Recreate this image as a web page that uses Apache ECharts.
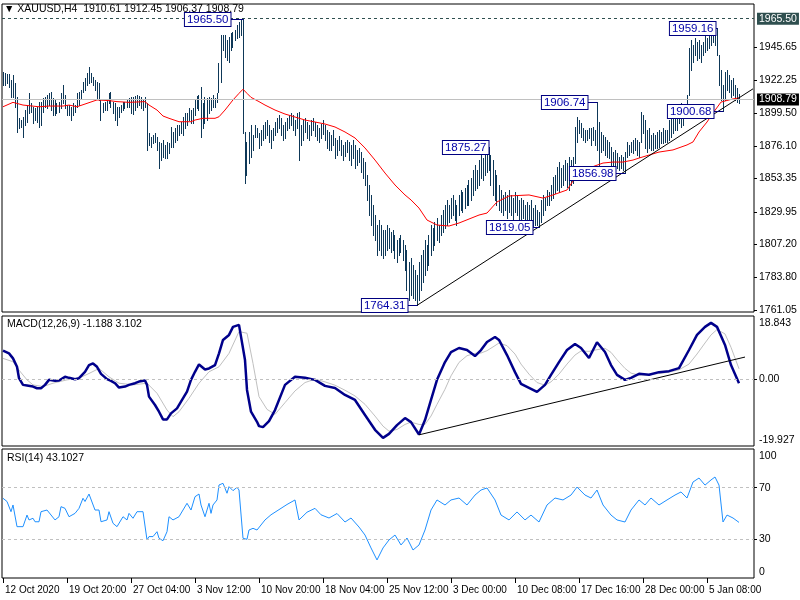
<!DOCTYPE html>
<html><head><meta charset="utf-8">
<script src="https://cdn.jsdelivr.net/npm/echarts@6/dist/echarts.min.js"></script>
<style>html,body{margin:0;padding:0;background:#fff}#c{width:800px;height:600px}</style>
</head><body><div id="c"></div>
<script>
// ---------- data ----------
const symbolTitle = 'XAUUSD,H4';
const lastOHLC = [1910.61, 1912.45, 1906.37, 1908.79];
const highs = [
1928.3,1927.6,1926.7,1926.7,1922.5,1926.0,1920.4,1910.6,1895.8,1894.4,
1896.5,1901.4,1904.9,1913.4,1906.3,1903.5,1902.8,1903.5,1907.0,1907.0,
1909.9,1910.6,1912.0,1913.4,1914.1,1909.9,1908.5,1906.3,1907.0,1913.4,
1919.0,1912.0,1904.9,1904.9,1903.5,1906.3,1904.9,1913.4,1914.1,1915.5,
1921.1,1923.9,1927.4,1931.6,1927.4,1924.6,1922.5,1921.1,1920.4,1908.5,
1906.3,1907.0,1908.5,1913.4,1914.1,1907.0,1906.3,1903.5,1903.5,1904.9,
1907.0,1907.0,1908.5,1909.9,1910.6,1910.6,1911.3,1912.0,1911.3,1910.6,
1908.5,1910.6,1906.3,1885.3,1882.5,1883.9,1885.3,1882.5,1879.0,1878.3,
1880.4,1876.9,1879.0,1878.3,1889.5,1886.0,1888.8,1890.9,1890.9,1893.0,
1896.5,1899.3,1899.3,1902.8,1901.4,1902.8,1908.5,1911.3,1912.0,1917.6,
1906.3,1910.6,1909.9,1910.6,1909.9,1912.0,1909.9,1913.4,1934.4,1954.1,
1954.1,1954.1,1950.6,1952.7,1955.5,1956.2,1957.6,1961.1,1963.2,1964.6,
1965.5,1886.0,1879.0,1886.0,1890.9,1883.9,1890.9,1888.8,1885.3,1887.4,
1890.9,1893.0,1894.4,1890.9,1887.4,1888.8,1893.0,1895.8,1897.9,1895.8,
1890.9,1893.0,1895.8,1897.9,1899.3,1897.9,1894.4,1899.3,1900.0,1890.9,
1894.4,1895.8,1893.0,1890.9,1894.4,1895.8,1893.0,1890.9,1888.8,1891.6,
1894.4,1890.9,1887.4,1886.0,1883.9,1887.4,1881.8,1880.4,1883.2,1880.4,
1876.9,1879.0,1880.4,1879.0,1876.9,1880.4,1876.9,1873.4,1874.8,1871.9,
1867.7,1864.9,1855.8,1848.8,1841.8,1834.7,1827.7,1820.7,1824.2,1820.7,
1817.2,1817.2,1820.7,1818.6,1815.8,1817.2,1813.7,1810.2,1811.6,1813.7,
1810.2,1806.7,1803.2,1794.7,1797.5,1792.6,1789.1,1785.6,1794.7,1799.7,
1803.2,1810.2,1806.7,1813.7,1820.7,1818.6,1822.8,1825.6,1820.7,1827.7,
1831.2,1834.7,1838.3,1834.7,1839.6,1841.8,1838.3,1834.7,1841.8,1845.3,
1843.9,1846.7,1848.8,1852.3,1853.7,1859.3,1862.8,1859.3,1866.3,1869.8,
1867.7,1873.4,1874.8,1875.27,1869.8,1866.3,1859.3,1855.8,1848.8,1845.3,
1841.8,1843.9,1841.8,1845.3,1841.8,1839.6,1843.9,1841.8,1838.3,1839.6,
1838.3,1834.7,1836.9,1834.7,1838.3,1832.6,1834.7,1831.2,1829.8,1838.3,
1841.8,1839.6,1845.3,1843.9,1848.8,1854.4,1855.8,1861.4,1864.9,1860.7,
1862.8,1866.3,1864.2,1868.4,1866.3,1868.4,1889.5,1896.5,1894.4,1892.3,
1888.8,1887.4,1887.4,1888.8,1888.8,1889.5,1887.4,1906.74,1893.0,1886.0,
1883.9,1882.5,1880.4,1879.0,1875.5,1871.9,1873.4,1871.3,1868.4,1869.8,
1868.4,1871.9,1879.0,1876.9,1879.0,1880.4,1881.8,1880.4,1879.0,1900.0,
1897.9,1894.4,1887.4,1888.8,1883.9,1885.3,1883.9,1886.0,1887.4,1886.0,
1888.8,1887.4,1887.4,1894.4,1897.9,1899.3,1900.0,1901.4,1901.4,1906.3,
1900.0,1902.8,1912.0,1944.9,1950.6,1947.1,1952.0,1949.2,1950.6,1947.1,
1949.2,1954.1,1952.0,1956.2,1957.6,1955.0,1957.6,1959.16,1940.0,1929.5,
1919.0,1928.1,1929.5,1926.0,1922.5,1923.9,1919.0,1916.9,1912.45
];
const lows = [
1919.0,1919.0,1920.4,1917.6,1910.6,1910.6,1903.5,1886.0,1888.8,1889.5,
1882.5,1890.9,1893.0,1899.3,1900.0,1892.3,1894.4,1893.0,1889.5,1890.9,
1900.0,1903.5,1902.8,1904.9,1901.4,1897.9,1897.9,1899.3,1900.0,1902.8,
1906.3,1902.8,1897.9,1897.9,1894.4,1897.9,1900.0,1903.5,1904.9,1909.9,
1914.1,1915.5,1919.0,1920.4,1921.1,1919.0,1915.5,1909.9,1908.5,1894.4,
1900.0,1901.4,1901.4,1906.3,1903.5,1899.3,1894.4,1890.9,1896.5,1900.0,
1901.4,1902.8,1903.5,1903.5,1899.3,1898.6,1901.4,1903.5,1904.9,1902.8,
1901.4,1903.5,1873.4,1876.9,1875.5,1878.3,1879.0,1873.4,1860.7,1866.3,
1868.4,1867.7,1867.7,1871.3,1875.5,1875.5,1879.0,1880.4,1883.9,1885.3,
1883.9,1888.8,1890.9,1894.4,1892.3,1892.3,1897.9,1902.8,1901.4,1882.5,
1888.8,1892.3,1894.4,1899.3,1901.4,1903.5,1903.5,1907.0,1914.1,1921.1,
1943.5,1938.6,1936.5,1935.1,1943.5,1945.7,1950.6,1951.9,1952.7,1954.1,
1885.3,1850.2,1855.8,1864.2,1868.4,1873.4,1882.5,1882.5,1874.8,1876.9,
1880.4,1881.8,1883.9,1879.0,1874.8,1880.4,1883.9,1886.0,1888.8,1883.9,
1880.4,1881.8,1887.4,1888.8,1890.9,1887.4,1883.9,1888.8,1866.3,1876.9,
1880.4,1886.0,1881.8,1880.4,1883.9,1887.4,1883.2,1880.4,1879.0,1881.8,
1884.6,1880.4,1874.8,1873.4,1873.4,1876.9,1867.7,1869.8,1873.4,1869.8,
1866.3,1869.1,1871.9,1866.3,1862.8,1867.7,1860.7,1862.8,1864.9,1857.9,
1853.7,1848.8,1838.3,1827.7,1820.7,1813.7,1810.2,1799.7,1803.2,1799.7,
1797.5,1799.7,1803.2,1804.6,1801.8,1803.2,1797.5,1794.7,1799.7,1801.8,
1796.1,1789.1,1775.1,1768.1,1771.6,1769.5,1768.1,1764.31,1768.1,1775.1,
1780.7,1785.6,1789.1,1792.6,1799.7,1803.2,1806.7,1810.2,1808.8,1813.7,
1815.8,1818.6,1820.7,1822.8,1825.6,1827.7,1824.2,1820.7,1827.7,1831.2,
1829.8,1832.6,1834.7,1834.7,1838.3,1841.8,1845.3,1846.7,1848.8,1853.7,
1852.3,1855.8,1857.9,1859.3,1848.8,1841.8,1838.3,1834.7,1831.2,1829.8,
1827.7,1831.2,1825.6,1829.8,1827.7,1824.2,1829.8,1827.7,1824.2,1822.8,
1825.6,1820.7,1824.2,1821.4,1822.8,1820.0,1820.7,1820.5,1819.05,1822.8,
1827.7,1831.2,1834.7,1834.7,1838.3,1839.6,1843.2,1845.3,1843.9,1847.4,
1848.8,1852.3,1847.4,1845.3,1848.8,1850.2,1864.2,1879.0,1885.3,1882.5,
1880.4,1879.0,1880.4,1881.8,1876.9,1880.4,1876.9,1873.4,1860.7,1871.9,
1873.4,1869.8,1868.4,1867.7,1862.8,1859.3,1862.8,1860.7,1859.3,1860.7,
1859.3,1856.98,1868.4,1869.8,1871.9,1871.3,1873.4,1869.8,1868.4,1879.0,
1885.3,1874.8,1871.9,1874.8,1873.4,1873.4,1874.8,1874.8,1875.5,1878.3,
1878.3,1879.0,1879.0,1880.4,1882.5,1885.3,1887.4,1887.4,1892.3,1889.5,
1890.9,1895.8,1897.9,1912.0,1929.5,1935.1,1940.0,1936.5,1937.9,1935.1,
1940.0,1942.1,1943.5,1944.9,1947.1,1949.2,1947.1,1940.0,1919.0,1908.5,
1900.68,1908.5,1915.5,1914.1,1910.6,1912.0,1908.5,1907.0,1906.37
];
const totalSlots = 376;
const xTickStep = 32;
const xTickLabels = ['12 Oct 2020','19 Oct 20:00','27 Oct 04:00','3 Nov 12:00','10 Nov 20:00','18 Nov 04:00','25 Nov 12:00','3 Dec 00:00','10 Dec 08:00','17 Dec 16:00','28 Dec 00:00','5 Jan 08:00'];
const priceTicks = [1761.05,1783.80,1807.20,1829.95,1853.35,1876.10,1899.50,1922.25,1945.65];
const priceRange = [1759.65, 1975.83];
const highLevel = 1965.50;
const maPoints = [[0,1903.7],[5,1906.8],[10,1904.9],[18,1903.7],[23,1904.2],[30,1904.2],[33,1904.9],[37,1903.7],[42,1906.1],[47,1908.5],[53,1908.0],[57,1907.3],[63,1906.8],[71,1907.3],[73,1904.9],[77,1901.4],[80,1897.2],[83,1895.6],[88,1893.2],[94,1893.2],[96,1894.4],[100,1895.6],[106,1895.6],[108,1896.7],[111,1901.4],[115,1908.5],[118,1913.1],[120,1916.0],[122,1913.1],[124,1910.3],[128,1907.3],[131,1904.9],[136,1901.4],[141,1898.6],[146,1896.5],[151,1894.4],[156,1893.0],[161,1891.6],[166,1889.5],[171,1886.0],[176,1881.8],[181,1874.8],[186,1866.3],[191,1857.2],[196,1848.8],[201,1841.8],[204,1838.3],[208,1832.6],[212,1824.2],[217,1820.7],[223,1820.0],[228,1822.1],[238,1827.7],[242,1829.1],[247,1836.9],[253,1841.1],[263,1841.8],[270,1839.6],[275,1841.8],[282,1845.3],[287,1855.8],[293,1860.7],[300,1864.2],[305,1864.9],[310,1864.9],[315,1866.3],[318,1867.7],[323,1869.8],[328,1871.9],[335,1873.4],[342,1876.9],[345,1879.0],[348,1886.0],[352,1893.0],[355,1899.3],[359,1907.0],[365,1909.2],[368,1909.9]];
const annIdx = [120, 207, 243, 268, 297, 311, 357, 360];
const annPrice = [1965.50, 1764.31, 1875.27, 1819.05, 1906.74, 1856.98, 1959.16, 1900.68];
const priceTrend = [[207, 1764.31], [375, 1916.3]];

const macdRange = [-19.927, 18.843];
const macdTickVals = [-19.927, 0, 18.843];
const macdTickText = ['-19.927', '0.00', '18.843'];
const macdLast = [-1.188, 3.102];
const macdPoints = [[0,8.5],[3,7.7],[5,6.2],[7,3.7],[8,0.3],[10,-1.7],[12,-1.9],[15,-2.2],[17,-2.7],[19,-2.7],[21,-1.7],[23,-0.2],[26,-0.5],[28,-0.4],[31,0.7],[33,0.4],[36,0],[38,0.3],[41,2.2],[43,4.2],[45,4.7],[47,3.7],[49,1.6],[52,0],[54,-0.5],[56,-1.2],[58,-2.5],[61,-2.2],[63,-1.7],[66,-1.2],[68,-0.7],[71,-0.4],[72,-1.7],[73,-5.2],[76,-7.7],[78,-9.7],[80,-12.0],[82,-12.0],[84,-10.2],[87,-8.7],[89,-6.7],[92,-3.7],[94,-0.2],[96,2.2],[98,4.4],[101,2.9],[103,3.2],[106,4.2],[108,7.7],[110,11.7],[113,13.2],[115,15.6],[118,16.2],[119,15.9],[121,5.7],[122,-3.2],[124,-9.7],[127,-12.7],[128,-14.0],[130,-14.3],[133,-12.5],[136,-9.2],[141,-1.7],[146,0.7],[151,0.4],[156,-0.2],[161,-2.0],[166,-2.6],[171,-4.7],[176,-6.2],[181,-10.7],[186,-15.1],[190,-17.5],[193,-16.3],[197,-13.7],[201,-11.6],[204,-12.8],[208,-16.5],[211,-12.2],[214,-6.2],[217,-0.2],[221,5.1],[224,8.1],[228,9.3],[232,8.7],[236,6.9],[239,8.7],[242,11.1],[246,12.6],[248,11.7],[252,7.2],[256,2.1],[259,-1.4],[263,-2.6],[267,-3.8],[271,-1.7],[274,1.3],[278,5.1],[282,8.7],[286,10.5],[289,9.3],[293,6.3],[297,11.0],[301,8.1],[304,4.2],[307,1.3],[311,-0.2],[314,0.4],[318,1.6],[323,1.3],[328,2.1],[333,2.4],[338,3.3],[343,8.7],[347,13.2],[351,15.6],[354,16.8],[357,15.6],[361,10.2],[364,4.2],[368,-1.188]];
const signalPoints = [[0,6.2],[5,5.2],[8,2.7],[12,-0.2],[15,-1.7],[20,-2.2],[25,-1.2],[32,-0.2],[38,0.3],[43,1.7],[48,3.2],[53,0.7],[58,-1.2],[65,-1.7],[72,-1.2],[77,-4.2],[82,-9.2],[85,-11.2],[88,-9.7],[93,-5.7],[98,-1.2],[103,2.2],[108,3.7],[113,7.7],[118,14.2],[122,13.7],[125,4.7],[128,-5.2],[132,-9.0],[136,-10.5],[141,-7],[146,-3.5],[151,-1],[156,0],[161,-0.8],[166,-1.8],[171,-3.3],[176,-5],[181,-7.5],[186,-11],[190,-14],[193,-15.5],[197,-15],[201,-13.5],[204,-12.8],[208,-13.5],[211,-13.5],[214,-11],[217,-7.5],[221,-3],[224,1],[228,5],[232,7],[236,7.7],[239,7.8],[242,8.5],[246,10],[248,10.8],[252,10],[256,7.5],[259,4.5],[263,1.5],[267,-1],[271,-1.8],[274,-0.8],[278,1.5],[282,4.5],[286,7.2],[289,8.4],[293,8.3],[297,8.8],[301,9.2],[304,8],[307,5.8],[311,3.2],[314,1.8],[318,1.2],[323,1.3],[328,1.7],[333,2.1],[338,2.8],[343,4.5],[347,7.5],[351,10.8],[354,13.2],[357,14.8],[361,13.5],[364,9.5],[368,3.102]];
const macdTrend = [[208, -16.6], [371, 6.6]];

const rsiTickVals = [0, 30, 70, 100];
const rsiLevels = [30, 70];
const rsiLast = 43.1027;
const rsiPoints = [[0,61.8],[2,59.3],[4,51.4],[5,56.6],[7,39.8],[8,38.5],[10,39.8],[12,48.8],[13,45.0],[15,46.3],[16,43.6],[18,43.6],[19,51.4],[22,52.7],[23,51.4],[26,45.0],[28,47.5],[29,55.3],[31,54.0],[33,47.5],[34,46.3],[36,50.1],[38,54.0],[40,61.8],[41,59.3],[43,65.1],[44,64.3],[46,52.7],[48,52.7],[49,43.6],[50,42.4],[52,45.0],[53,51.4],[55,42.4],[57,39.8],[58,38.5],[60,47.5],[62,45.0],[63,50.1],[65,46.3],[67,51.4],[68,50.1],[70,51.4],[72,29.5],[73,32.1],[75,32.1],[77,35.9],[78,30.8],[80,28.9],[82,35.9],[83,47.5],[85,45.0],[88,47.5],[90,52.7],[92,57.9],[94,52.7],[96,63.0],[98,65.1],[99,56.6],[101,47.5],[103,57.9],[104,50.1],[105,56.6],[107,60.5],[108,72.1],[110,73.4],[112,65.7],[113,70.8],[115,67.7],[117,70.3],[118,68.2],[120,30.8],[122,30.0],[123,37.2],[125,38.5],[127,37.2],[128,38.5],[131,45],[134,49],[138,53],[142,57],[146,60.5],[148,45],[152,51],[156,54],[159,49],[163,46.5],[167,50],[171,43.4],[174,46.5],[178,39.5],[181,33.3],[184,23.3],[187,14],[190,23.3],[193,29.5],[196,33.3],[199,25.6],[202,31],[205,21.7],[208,25.6],[211,37.2],[214,52.7],[217,60.5],[221,56.6],[224,60.5],[228,62],[232,56.6],[236,64.3],[239,68.2],[242,69.8],[246,60.5],[249,48.8],[253,45],[257,51.2],[261,45],[264,48.8],[268,43.4],[272,56.6],[276,62],[280,60.5],[284,64.3],[287,70.5],[291,64.3],[294,62],[297,68.2],[300,56.6],[304,48.8],[307,45],[311,43.4],[314,52.7],[318,60.5],[321,56.6],[324,62],[328,56.6],[332,60.5],[336,64.3],[339,66.7],[342,62],[345,74.4],[348,77.5],[351,72],[354,76],[356,78.3],[358,72],[360,43.4],[362,48.8],[365,46.5],[368,43.1027]];

// ---------- styles ----------
const FONT = "'Liberation Sans', Arial, sans-serif";
const BAR_COLOR = '#0e3858';
const annGap = [13, 10, 1, 7, 10, 10, 2, 10];

const cats = Array.from({length: totalSlots}, (_, i) => String(i));
const chart = echarts.init(document.getElementById('c'), null, {renderer: 'canvas'});

function gridBox(top, height) {
  return {left: 2, top: top, width: 752, height: height, show: true, borderColor: '#000', borderWidth: 1, backgroundColor: '#fff'};
}
function hiddenX(gi) {
  return {type: 'category', gridIndex: gi, data: cats, boundaryGap: true,
    axisLine: {show: false}, axisTick: {show: false}, axisLabel: {show: false}, splitLine: {show: false}};
}
const lblBase = {color: '#000', fontSize: 10.5, fontFamily: FONT, margin: 5};
const titleStyle = {fontSize: 10.5, fontWeight: 'normal', color: '#000', fontFamily: FONT};

const option = {
  animation: false,
  backgroundColor: '#fff',
  title: [
    {text: '\u25BC ' + symbolTitle + '  ' + lastOHLC.map(v => v.toFixed(2)).join(' '), left: 4, top: 4, padding: 0, z: 0, zlevel: 0,
     textStyle: titleStyle},
    {text: 'MACD(12,26,9) ' + macdLast.map(v => v.toFixed(3)).join(' '), left: 7, top: 319, padding: 0, z: 0,
     textStyle: titleStyle},
    {text: 'RSI(14) ' + rsiLast.toFixed(4), left: 7, top: 453, padding: 0, z: 0,
     textStyle: titleStyle}
  ],
  grid: [gridBox(4, 308), gridBox(316, 130), gridBox(449, 129)],
  xAxis: [hiddenX(0), hiddenX(1), {
    type: 'category', gridIndex: 2, data: cats, boundaryGap: true,
    axisLine: {show: false},
    axisTick: {show: true, alignWithLabel: true, length: 5, interval: (i) => i % xTickStep === 0, lineStyle: {color: '#000'}},
    axisLabel: {show: true, interval: (i) => i % xTickStep === 0, align: 'left', margin: 7, padding: [0, 0, 0, 2],
      color: '#000', fontSize: 10, fontFamily: FONT,
      formatter: (v, i) => xTickLabels[Math.round(i / xTickStep)] || ''},
    splitLine: {show: false}
  }],
  yAxis: [
    {type: 'value', gridIndex: 0, position: 'right', min: priceRange[0], max: priceRange[1],
     axisLine: {show: false}, splitLine: {show: false},
     axisTick: {show: true, length: 3, customValues: priceTicks, lineStyle: {color: '#000'}},
     axisLabel: Object.assign({}, lblBase, {customValues: priceTicks, formatter: v => v.toFixed(2)})},
    {type: 'value', gridIndex: 1, position: 'right', min: macdRange[0], max: macdRange[1],
     axisLine: {show: false}, splitLine: {show: false},
     axisTick: {show: true, length: 3, customValues: [0], lineStyle: {color: '#000'}},
     axisLabel: Object.assign({}, lblBase, {customValues: macdTickVals,
       formatter: v => {
         const k = macdTickVals.indexOf(v); const t = k >= 0 ? macdTickText[k] : '';
         if (v === macdRange[1]) return '{t|' + t + '}';
         if (v === macdRange[0]) return '{b|' + t + '}';
         return t;
       },
       rich: {t: {padding: [14, 0, 0, 0], fontSize: 10.5, fontFamily: FONT, color: '#000'},
              b: {padding: [0, 0, 12, 0], fontSize: 10.5, fontFamily: FONT, color: '#000'}}})},
    {type: 'value', gridIndex: 2, position: 'right', min: 0, max: 100,
     axisLine: {show: false}, splitLine: {show: false},
     axisTick: {show: true, length: 3, customValues: rsiLevels, lineStyle: {color: '#000'}},
     axisLabel: Object.assign({}, lblBase, {customValues: rsiTickVals,
       formatter: v => v === 100 ? '{t|100}' : (v === 0 ? '{b|0}' : String(v)),
       rich: {t: {padding: [14, 0, 0, 0], fontSize: 10.5, fontFamily: FONT, color: '#000'},
              b: {padding: [0, 0, 12, 0], fontSize: 10.5, fontFamily: FONT, color: '#000'}}})}
  ],
  series: [
    {type: 'custom', xAxisIndex: 0, yAxisIndex: 0, silent: true, z: 2,
     data: highs.map((h, i) => [i, lows[i], h]),
     encode: {x: 0, y: [1, 2]},
     renderItem: (params, api) => {
       const lo = api.coord([api.value(0), api.value(1)]);
       const hi = api.coord([api.value(0), api.value(2)]);
       const x = Math.floor(lo[0]);
       const y1 = Math.round(hi[1]), y2 = Math.round(lo[1]);
       return {type: 'rect', shape: {x: x, y: y1, width: 1, height: Math.max(1, y2 - y1 + 1)}, style: {fill: BAR_COLOR}};
     }},
    {type: 'line', xAxisIndex: 0, yAxisIndex: 0, data: maPoints, symbol: 'none', silent: true, z: 3,
     lineStyle: {color: '#ff0000', width: 1},
     markLine: {symbol: 'none', silent: true, animation: false,
       data: [
         {yAxis: highLevel, lineStyle: {color: '#2f4f4f', type: [3, 3], width: 1},
          label: {show: true, position: 'end', distance: 3, formatter: highLevel.toFixed(2), color: '#fff', backgroundColor: '#2f4f4f',
                  padding: [1, 2, 0, 2], fontSize: 10.5, fontFamily: FONT}},
         {yAxis: lastOHLC[3], lineStyle: {color: '#c0c0c0', type: 'solid', width: 1},
          label: {show: true, position: 'end', distance: 3, formatter: lastOHLC[3].toFixed(2), color: '#fff', backgroundColor: '#000',
                  padding: [1, 2, 0, 2], fontSize: 10.5, fontFamily: FONT}}
       ]}},
    {type: 'line', xAxisIndex: 0, yAxisIndex: 0, data: priceTrend, symbol: 'none', silent: true, z: 4,
     lineStyle: {color: '#000', width: 1}},
    {type: 'custom', xAxisIndex: 0, yAxisIndex: 0, silent: true, z: 5,
     data: annIdx.map((d, i) => [d, annPrice[i], annGap[i]]),
     encode: {x: 0, y: 1},
     renderItem: (params, api) => {
       const p = api.coord([api.value(0), api.value(1)]);
       const gap = api.value(2);
       const px = Math.floor(p[0]) + 0.5, py = Math.round(p[1]) + 0.5;
       return {type: 'group', children: [
         {type: 'line', shape: {x1: px - gap, y1: py, x2: px, y2: py}, style: {stroke: '#000080', lineWidth: 1}},
         {type: 'text', x: px - gap, y: py, style: {text: api.value(1).toFixed(2), align: 'right', verticalAlign: 'middle',
           fill: '#0000a8', font: '11.5px ' + FONT, backgroundColor: '#fff', borderColor: '#000080', borderWidth: 1, padding: [1, 2, 0, 2]}}
       ]};
     }},
    {type: 'line', xAxisIndex: 1, yAxisIndex: 1, data: signalPoints, symbol: 'none', silent: true, z: 2,
     lineStyle: {color: '#c0c0c0', width: 1},
     markLine: {symbol: 'none', silent: true, animation: false, label: {show: false},
       data: [{yAxis: 0}], lineStyle: {color: '#c0c0c0', type: [3, 3], width: 1}}},
    {type: 'line', xAxisIndex: 1, yAxisIndex: 1, data: macdPoints, symbol: 'none', silent: true, z: 3,
     lineStyle: {color: '#00008b', width: 2.5}},
    {type: 'line', xAxisIndex: 1, yAxisIndex: 1, data: macdTrend, symbol: 'none', silent: true, z: 4,
     lineStyle: {color: '#000', width: 1}},
    {type: 'line', xAxisIndex: 2, yAxisIndex: 2, data: rsiPoints, symbol: 'none', silent: true, z: 3,
     lineStyle: {color: '#1e90ff', width: 1},
     markLine: {symbol: 'none', silent: true, animation: false, label: {show: false},
       data: rsiLevels.map(v => ({yAxis: v})), lineStyle: {color: '#c0c0c0', type: [3, 3], width: 1}}}
  ]
};
chart.setOption(option);
</script>
</body></html>
